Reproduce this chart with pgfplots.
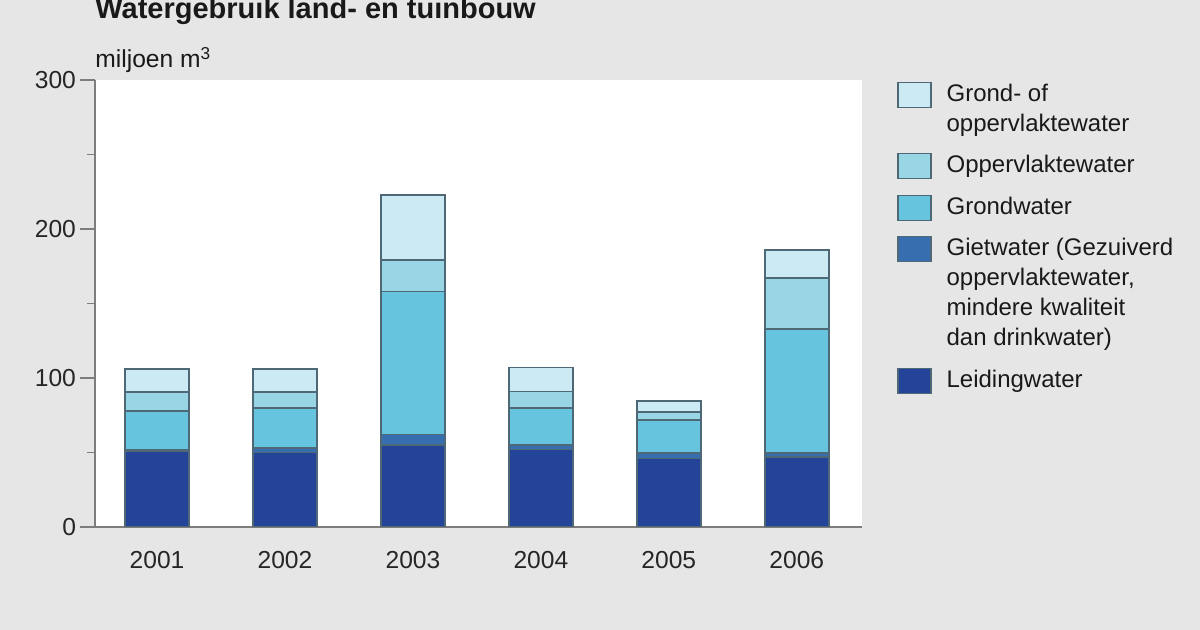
\documentclass[border=0pt]{standalone}
\usepackage{pgfplots}
\pgfplotsset{compat=1.18}
\usepackage{pgfplotstable}
\usepackage{fontspec}
\setmainfont{Liberation Sans}
\definecolor{bg}{RGB}{230,230,230}
\definecolor{axgray}{RGB}{125,125,125}
\definecolor{edge}{RGB}{78,104,118}
\definecolor{cLeiding}{RGB}{35,68,152}
\definecolor{cGiet}{RGB}{55,110,175}
\definecolor{cGrond}{RGB}{103,196,222}
\definecolor{cOpp}{RGB}{152,214,230}
\definecolor{cGrOf}{RGB}{204,234,243}
\newcommand\legtab[1]{\begin{tabular}[t]{@{}l@{}}#1\end{tabular}}
% x: 0=2001 ... 5=2006; values in miljoen m3
\pgfplotstableread{
x  L   G    Gr    O     GO
0  51  1.0  26.0  12.6  15.4
1  50  3.0  27.0  10.6  15.4
2  55  7.0  96.0  21.0  44.0
3  52  3.0  25.0  11.0  16.0
4  46  3.5  22.5  5.0   7.5
5  47  2.5  83.5  34.0  19.0
}\data
\begin{document}
\begin{tikzpicture}
\useasboundingbox (0,0) rectangle (600pt,315pt);
\fill[bg] (0,0) rectangle (600pt,315pt);
\node[anchor=base west, inner sep=0, font=\fontsize{14.5}{17}\selectfont\bfseries, text=black!90] at (47.5pt,305.5pt) {Watergebruik land- en tuinbouw};
\node[anchor=base west, inner sep=0, font=\fontsize{12.3}{14}\selectfont, text=black!90] at (47.5pt,281pt) {miljoen m\textsuperscript{3}};
\begin{axis}[
  at={(47.5pt,51.5pt)}, anchor=south west,
  scale only axis, width=383.5pt, height=223.5pt,
  ybar stacked, bar width=32pt,
  xmin=-0.485, xmax=5.51, ymin=0, ymax=300,
  axis background/.style={fill=white},
  axis x line*=bottom, axis y line*=left,
  axis line style={draw=axgray, line width=1pt},
  xtick={0,1,2,3,4,5}, xticklabels={2001,2002,2003,2004,2005,2006},
  xtick style={draw=none},
  ytick={0,100,200,300}, minor ytick={50,150,250},
  tick align=outside, major tick length=7.5pt, minor tick length=4pt,
  ytick style={draw=axgray, line width=0.8pt},
  /pgf/number format/assume math mode=true,
  tick label style={font=\fontsize{12.3}{14}\selectfont, text=black!85},
  xticklabel style={yshift=-1pt},
  yticklabel style={xshift=1.5pt},
  every axis plot/.append style={draw=edge, line width=0.8pt,
    legend image code/.code={\draw[#1, line width=0.6pt] (0pt,-3pt) rectangle (16.5pt,9.5pt);}},
  reverse legend,
  legend style={at={(1.0456,1)}, anchor=north west, draw=none, fill=none,
    inner sep=0pt, font=\fontsize{12}{15}\selectfont, text=black!90,
    row sep=5.75pt, column sep=7.5pt,
    cells={anchor=base west},
    nodes={inner ysep=0pt, inner xsep=0pt, text depth=, text height=}},
]
\addplot[fill=cLeiding] table[x=x,y=L] {\data};
\addlegendentry{\legtab{Leidingwater}}
\addplot[fill=cGiet] table[x=x,y=G] {\data};
\addlegendentry{\legtab{Gietwater (Gezuiverd\\oppervlaktewater,\\mindere kwaliteit\\dan drinkwater)}}
\addplot[fill=cGrond] table[x=x,y=Gr] {\data};
\addlegendentry{\legtab{Grondwater}}
\addplot[fill=cOpp] table[x=x,y=O] {\data};
\addlegendentry{\legtab{Oppervlaktewater}}
\addplot[fill=cGrOf] table[x=x,y=GO] {\data};
\addlegendentry{\legtab{Grond- of\\oppervlaktewater}}
\end{axis}
\end{tikzpicture}
\end{document}
